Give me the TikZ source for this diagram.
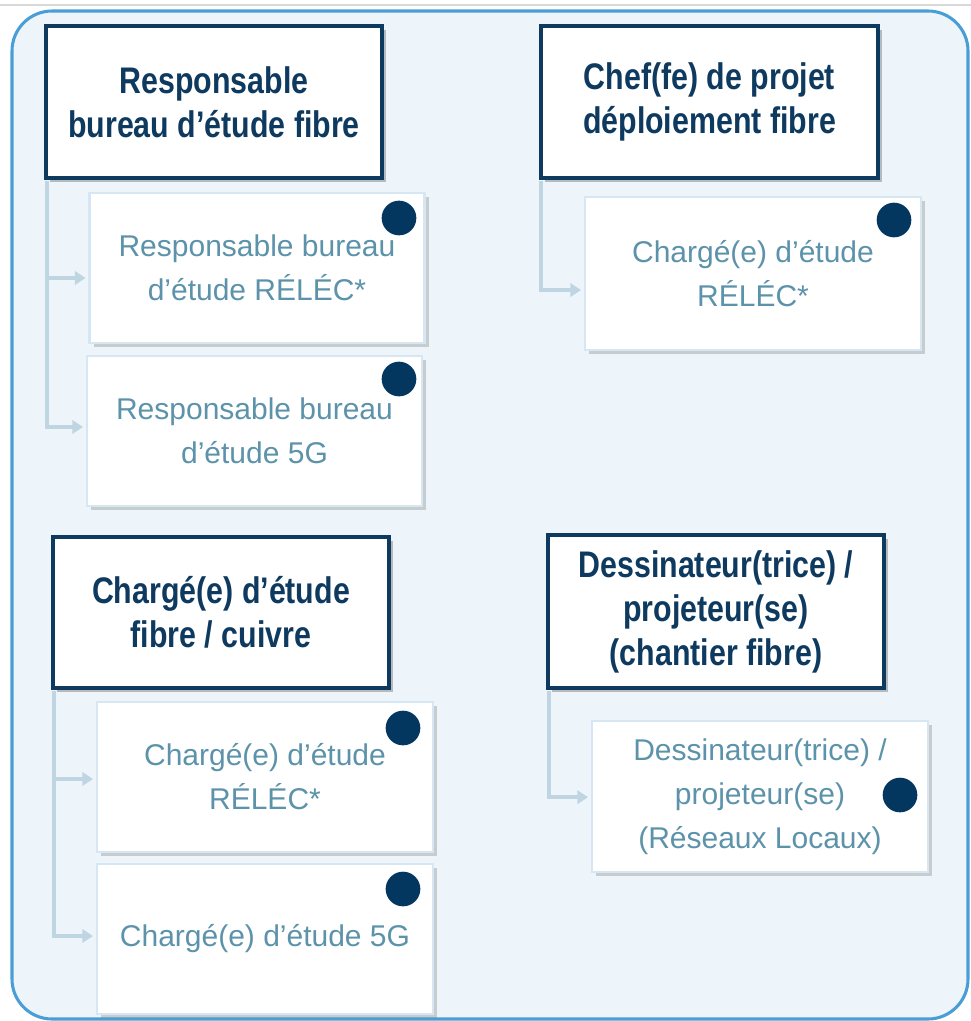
\documentclass[tikz,border=0pt]{standalone}
\usepackage{fontspec}
\setmainfont{Liberation Sans}
\newfontfamily\titlefont[FakeStretch=0.82]{Liberation Sans}
\usetikzlibrary{arrows.meta,shadows}
\definecolor{navy}{HTML}{0E3A5F}
\definecolor{dotnavy}{HTML}{033760}
\definecolor{subtext}{HTML}{5C93AA}
\definecolor{subline}{HTML}{D6E7F3}
\definecolor{connline}{HTML}{BFD5E2}
\definecolor{framefill}{HTML}{EEF5FA}
\definecolor{frameline}{HTML}{4A9ED6}
\begin{document}
\begin{tikzpicture}[x=0.75pt,y=-0.75pt,
  titlebox/.style 2 args={draw=navy, line width=2.5pt, fill=white,
    minimum width=#1*0.75pt, minimum height=#2*0.75pt, inner sep=0pt, align=center,
    font=\titlefont\bfseries\fontsize{27.75pt}{33pt}\selectfont, text=navy,
    drop shadow={shadow xshift=3pt, shadow yshift=-3pt, opacity=.45, fill=black!55}},
  subbox/.style 2 args={draw=subline, line width=2pt, fill=white,
    minimum width=#1*0.75pt, minimum height=#2*0.75pt, inner sep=0pt, align=center,
    font=\fontsize{22.5pt}{33pt}\selectfont, text=subtext,
    drop shadow={shadow xshift=3pt, shadow yshift=-3pt, opacity=.35, fill=black!50}},
  dot/.style={circle, fill=dotnavy, minimum size=26pt, inner sep=0pt},
  conn/.style={draw=connline, line width=3pt, shorten >=2pt,
    -{Triangle[length=8pt,width=10pt]}},
  frame/.style={draw=frameline, fill=framefill, line width=2.3pt, rounded corners=30pt}]
\useasboundingbox (0,0) rectangle (971,1021);
\draw[black!15, line width=1.5pt] (0,5) -- (971,5);
\draw[frame] (12,11) rectangle (968,1019);

% top-left group
\node[titlebox={336}{152}] (b1) at (214,102) {Responsable\\bureau d’étude fibre};
\node[subbox={335}{150}] (s1) at (257,268) {Responsable bureau\\d’étude RÉLÉC*};
\node[subbox={335}{150}] (s2) at (254.5,431) {Responsable bureau\\d’étude 5G};
\node[dot] (d1) at (399,218) {};
\node[dot] (d2) at (399,379) {};

% top-right group
\node[titlebox={337}{152}] (b2) at (709.5,102) {Chef(fe) de projet\\déploiement fibre};
\node[subbox={336}{153}] (s3) at (753,273.5) {Chargé(e) d’étude\\RÉLÉC*};
\node[dot] (d3) at (894,220) {};

% bottom-left group
\node[titlebox={336}{151}] (b3) at (221,612.5) {Chargé(e) d’étude\\fibre / cuivre};
\node[subbox={336}{150}] (s4) at (265,777) {Chargé(e) d’étude\\RÉLÉC*};
\node[subbox={336}{150}] (s5) at (265,939) {Chargé(e) d’étude 5G};
\node[dot] (d4) at (403,728) {};
\node[dot] (d5) at (403,889) {};

% bottom-right group
\node[titlebox={336}{153}] (b4) at (716,611.5) {Dessinateur(trice) /\\projeteur(se)\\(chantier fibre)};
\node[subbox={336}{151}] (s6) at (760,796.5) {Dessinateur(trice) /\\projeteur(se)\\(Réseaux Locaux)};
\node[dot] (d6) at (900,795) {};

% connectors
\draw[conn] ([xshift=2.25pt,yshift=-1pt]b1.south west) |- ([yshift=-7.5pt]s1.west);
\draw[conn] ([xshift=2.25pt,yshift=-1pt]b1.south west) |- ([yshift=3pt]s2.west);
\draw[conn] ([xshift=1.5pt,yshift=-1pt]b2.south west) |- ([yshift=-12.4pt]s3.west);
\draw[conn] ([xshift=2.25pt,yshift=-1pt]b3.south west) |- ([yshift=-1.5pt]s4.west);
\draw[conn] ([xshift=2.25pt,yshift=-1pt]b3.south west) |- ([yshift=2.25pt]s5.west);
\draw[conn] ([xshift=2.25pt,yshift=-1pt]b4.south west) |- ([yshift=-0.5pt]s6.west);
\end{tikzpicture}
\end{document}
